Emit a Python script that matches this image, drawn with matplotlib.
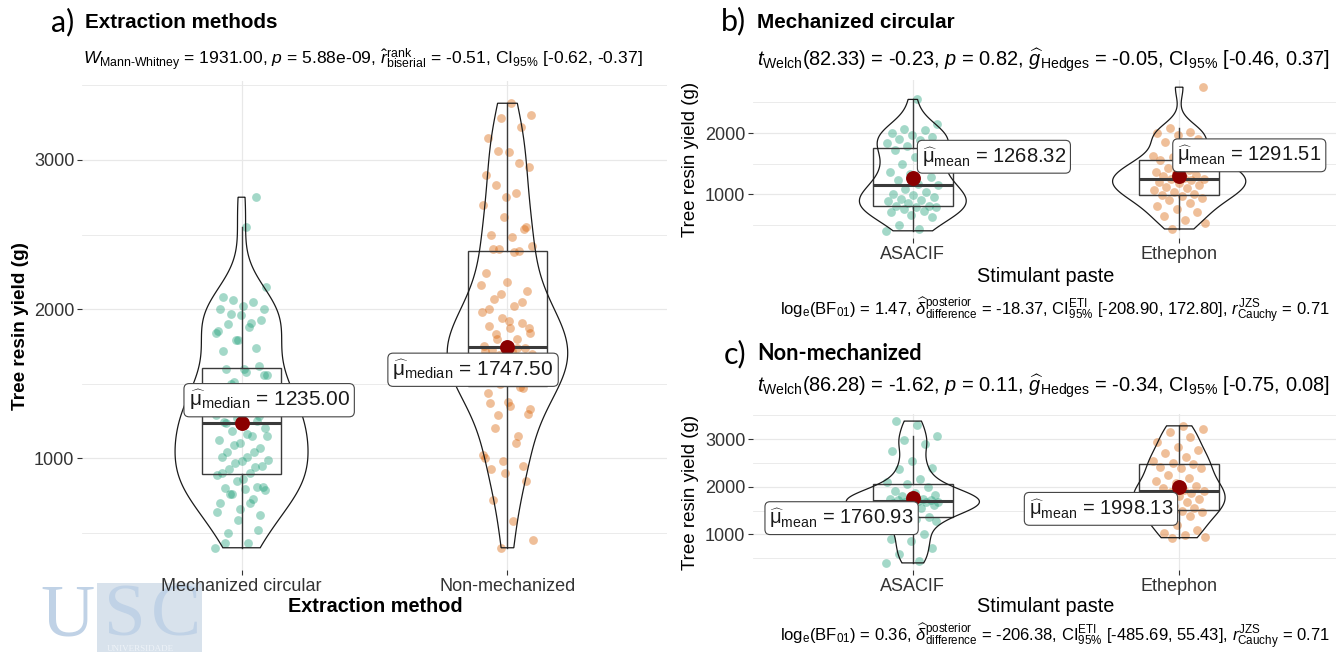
import numpy as np
import matplotlib.pyplot as plt
from matplotlib.patches import Rectangle, Polygon

plt.rcParams['font.family'] = ['Liberation Sans', 'DejaVu Sans']
plt.rcParams['mathtext.fontset'] = 'custom'
plt.rcParams['mathtext.rm'] = 'Liberation Sans'
plt.rcParams['mathtext.it'] = 'Liberation Sans:italic'
plt.rcParams['mathtext.bf'] = 'Liberation Sans:bold'
plt.rcParams['mathtext.sf'] = 'Liberation Sans'

# tree resin yield (g) per tree
mech_asacif = [400, 430, 500, 620, 660, 700, 730, 760, 790, 795,
               800, 810, 850, 890, 900, 925, 950, 980, 1010, 1040,
               1090, 1150, 1160, 1235, 1280, 1330, 1360, 1430, 1500, 1560,
               1600, 1720, 1740, 1790, 1840, 1880, 1900, 1930, 1960, 2000,
               2050, 2060, 2150, 2550]
mech_ethephon = [430, 520, 585, 640, 700, 760, 810, 860, 900, 940,
                 970, 990, 1010, 1040, 1070, 1100, 1120, 1150, 1180, 1200,
                 1235, 1245, 1250, 1270, 1290, 1310, 1340, 1370, 1400, 1430,
                 1470, 1510, 1560, 1580, 1600, 1620, 1790, 1850, 1910, 1970,
                 2000, 2020, 2080, 2750]
nonmech_asacif = [400, 450, 580, 720, 850, 900, 1000, 1150, 1290, 1330,
                  1350, 1370, 1470, 1510, 1550, 1580, 1610, 1630, 1650, 1670,
                  1680, 1690, 1700, 1720, 1725, 1740, 1745, 1750, 1800, 1830,
                  1870, 1920, 2000, 2050, 2100, 2160, 2380, 2400, 2550, 2750,
                  2900, 2980, 3060, 3300, 3380]
nonmech_ethephon = [930, 950, 980, 1020, 1100, 1200, 1300, 1380, 1440, 1480,
                    1500, 1520, 1560, 1600, 1640, 1680, 1720, 1740, 1800, 1840,
                    1870, 1890, 1910, 1940, 1980, 2020, 2070, 2120, 2180, 2240,
                    2390, 2400, 2420, 2480, 2500, 2540, 2620, 2700, 2780, 2835,
                    2950, 3050, 3150, 3220, 3280]

method_labels = ['Mechanized circular', 'Non-mechanized']
paste_labels = ['ASACIF', 'Ethephon']
method_medians = [1235.00, 1747.50]
mech_means = [1268.32, 1291.51]
nonmech_means = [1760.93, 1998.13]

sub_a = (r'$W_{\text{Mann-Whitney}}$ = 1931.00, $p$ = 5.88e-09, '
         r'$\hat{r}_{\mathrm{biserial}}^{\mathrm{rank}}$ = -0.51, $\mathrm{CI}_{95\%}$ [-0.62, -0.37]')
sub_b = (r'$t_{\mathrm{Welch}}$(82.33) = -0.23, $p$ = 0.82, '
         r'$\widehat{g}_{\mathrm{Hedges}}$ = -0.05, $\mathrm{CI}_{95\%}$ [-0.46, 0.37]')
cap_b = (r'$\mathrm{log}_{\mathrm{e}}(\mathrm{BF}_{01})$ = 1.47, '
         r'$\widehat{\delta}_{\mathrm{difference}}^{\mathrm{posterior}}$ = -18.37, '
         r'$\mathrm{CI}_{95\%}^{\mathrm{ETI}}$ [-208.90, 172.80], $r_{\mathrm{Cauchy}}^{\mathrm{JZS}}$ = 0.71')
sub_c = (r'$t_{\mathrm{Welch}}$(86.28) = -1.62, $p$ = 0.11, '
         r'$\widehat{g}_{\mathrm{Hedges}}$ = -0.34, $\mathrm{CI}_{95\%}$ [-0.75, 0.08]')
cap_c = (r'$\mathrm{log}_{\mathrm{e}}(\mathrm{BF}_{01})$ = 0.36, '
         r'$\widehat{\delta}_{\mathrm{difference}}^{\mathrm{posterior}}$ = -206.38, '
         r'$\mathrm{CI}_{95\%}^{\mathrm{ETI}}$ [-485.69, 55.43], $r_{\mathrm{Cauchy}}^{\mathrm{JZS}}$ = 0.71')

COLORS = ['#1B9E77', '#D95F02']
W, H = 1336, 652


def kde_nrd0(v):
    v = np.asarray(v, float)
    q1, q3 = np.percentile(v, [25, 75])
    h = 0.9 * min(v.std(ddof=1), (q3 - q1) / 1.34) * len(v) ** -0.2
    grid = np.linspace(v.min(), v.max(), 512)
    d = np.exp(-0.5 * ((grid[:, None] - v[None, :]) / h) ** 2).sum(1)
    return grid, d / (len(v) * h * np.sqrt(2 * np.pi))


def draw_panel(ax, groups, labels, centres, stat, offsets, aligns, lab_size):
    # ticks first: set_yticks would otherwise widen the limits
    ax.set_xticks([1, 2])
    ax.set_xticklabels(labels)
    ax.set_yticks([1000, 2000, 3000])
    ax.set_yticks([500, 1500, 2500, 3500], minor=True)

    dens = [kde_nrd0(g) for g in groups]
    dmax = max(d.max() for _, d in dens)
    for i, g in enumerate(groups):
        g = np.asarray(g, float)
        x0 = i + 1
        # jittered raw points
        k = np.arange(len(g))
        jit = ((k * 0.618034 + 0.37 * i) % 1.0 - 0.5) * 0.2
        ax.scatter(x0 + jit, g, s=40, color=COLORS[i], alpha=0.4, lw=0, zorder=2)
        # box and whiskers
        q1, med, q3 = np.percentile(g, [25, 50, 75])
        iqr = q3 - q1
        lo = g[g >= q1 - 1.5 * iqr].min()
        hi = g[g <= q3 + 1.5 * iqr].max()
        ax.add_patch(Rectangle((x0 - 0.15, q1), 0.3, q3 - q1, fill=False,
                               ec='#3a3a3a', lw=1.0, zorder=3))
        ax.plot([x0 - 0.15, x0 + 0.15], [med, med], color='#3a3a3a', lw=2.2,
                solid_capstyle='butt', zorder=3)
        ax.plot([x0, x0], [q3, hi], color='#3a3a3a', lw=1.0, zorder=3)
        ax.plot([x0, x0], [lo, q1], color='#3a3a3a', lw=1.0, zorder=3)
        # violin outline
        grid, d = dens[i]
        w = 0.25 * d / dmax
        xs = np.r_[x0 - w, (x0 + w)[::-1]]
        ys = np.r_[grid, grid[::-1]]
        ax.add_patch(Polygon(np.c_[xs, ys], closed=True, fill=False,
                             ec='#1a1a1a', lw=0.9, zorder=3))
        # centrality point and label
        c = centres[i]
        ax.scatter([x0], [c], s=115, color='darkred', lw=0, zorder=6)
        txt = r'$\widehat{\mathrm{\mu}}_{\mathrm{%s}}$ = %.2f' % (stat, c)
        ax.annotate(txt, (x0, c), xytext=offsets[i], textcoords='offset pixels',
                    ha=aligns[i], va='center', fontsize=lab_size, color='#1a1a1a',
                    bbox=dict(boxstyle='round,pad=0.22,rounding_size=0.25',
                              fc='white', ec='#444444', lw=0.8),
                    zorder=7)

    allv = np.concatenate([np.asarray(g, float) for g in groups])
    span = allv.max() - allv.min()
    ax.set_ylim(allv.min() - 0.05 * span, allv.max() + 0.05 * span)
    ax.set_xlim(0.4, 2.6)
    ax.grid(True, which='major', color='#e8e8e8', lw=0.9)
    ax.grid(True, which='minor', axis='y', color='#e8e8e8', lw=0.6)
    ax.set_axisbelow(True)
    for s in ax.spines.values():
        s.set_visible(False)
    ax.tick_params(which='major', length=3.5, width=0.8, color='#333333',
                   labelsize=13, labelcolor='#333333', pad=2)
    ax.tick_params(which='minor', length=0)


fig = plt.figure(figsize=(W / 100, H / 100), dpi=100)


def put(x, y, s, **kw):
    fig.text(x / W, 1 - y / H, s, **kw)


def axes_px(x0, y0, x1, y1):
    return fig.add_axes([x0 / W, 1 - y1 / H, (x1 - x0) / W, (y1 - y0) / H])


ax_a = axes_px(82, 81, 667, 570)
ax_b = axes_px(753, 80, 1339, 238)
ax_c = axes_px(753, 414, 1339, 570)

draw_panel(ax_a, [mech_asacif + mech_ethephon, nonmech_asacif + nonmech_ethephon],
           method_labels, method_medians, 'median',
           [(-53, 23), (-115, -23)], ['left', 'left'], 15)
draw_panel(ax_b, [mech_asacif, mech_ethephon], paste_labels, mech_means, 'mean',
           [(9, 21), (-2, 21)], ['left', 'left'], 14.5)
draw_panel(ax_c, [nonmech_asacif, nonmech_ethephon], paste_labels, nonmech_means, 'mean',
           [(1, -20), (-6, -22)], ['right', 'right'], 14.5)

# titles, subtitles and captions
put(51, 22, 'a)', fontsize=22, family='Lato', va='center')
put(85, 22, 'Extraction methods', fontsize=14.9, weight='bold', va='center')
put(83, 60, sub_a, fontsize=12.6, va='center')
put(721, 21, 'b)', fontsize=22, family='Lato', va='center')
put(757, 22, 'Mechanized circular', fontsize=14.9, weight='bold', va='center')
put(757, 60, sub_b, fontsize=14.4, va='center')
put(780, 310, cap_b, fontsize=12, va='center')
put(724, 354, 'c)', fontsize=22, family='Lato', va='center')
put(757, 354, 'Non-mechanized', fontsize=15.6, weight='bold', family='Lato', va='center')
put(757, 386, sub_c, fontsize=14.4, va='center')
put(780, 636, cap_c, fontsize=12, va='center')

# axis titles
put(21, 326, 'Tree resin yield (g)', fontsize=13.7, weight='bold', rotation=90,
    ha='center', va='center')
put(375, 606, 'Extraction method', fontsize=14.3, weight='bold', ha='center', va='center')
put(690, 159, 'Tree resin yield (g)', fontsize=13.5, rotation=90, ha='center', va='center')
put(690, 492, 'Tree resin yield (g)', fontsize=13.5, rotation=90, ha='center', va='center')
put(1046, 276, 'Stimulant paste', fontsize=14.3, ha='center', va='center')
put(1046, 607, 'Stimulant paste', fontsize=14.3, ha='center', va='center')

# faded university logo, lower left
fig.add_artist(Rectangle((97 / W, 0), 105 / W, 69 / H, transform=fig.transFigure,
                         color='#d8e2ec', lw=0, zorder=-1))
for x, letter in [(68, 'U'), (125, 'S'), (176, 'C')]:
    put(x, 651, letter, fontsize=54, family='Liberation Serif', color='#c0d2e6',
        ha='center', va='bottom', zorder=-1)
put(140, 649, 'UNIVERSIDADE', fontsize=6.5, family='Liberation Serif', color='#eef3f8',
    ha='center', va='center', zorder=-1)

fig.savefig('out.png', dpi=100)
